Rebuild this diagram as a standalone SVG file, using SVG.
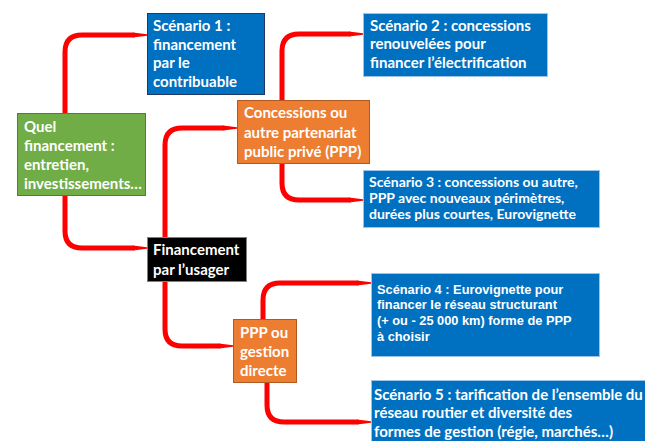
<svg xmlns="http://www.w3.org/2000/svg" width="645" height="441" viewBox="0 0 645 441">
<style>
.t{font-family:Lato,"Open Sans","Liberation Sans",sans-serif;font-weight:bold;font-size:15px;fill:#fff}
.s{font-size:14px}
.a{font-family:"Liberation Sans",Arial,sans-serif;font-weight:bold;font-size:12.8px;fill:#fff}
.c{fill:none;stroke:#ff0000;stroke-width:5;stroke-linecap:round;stroke-linejoin:round}
.tp{fill:#ff0000}
.blue{fill:#0070c0;stroke:#9dc3e6;stroke-width:1}
</style>
<rect width="645" height="441" fill="#fff"/>
<g id="connectors">
<path class="c" d="M65,113 V52 Q65,35 82,35 H133"/><polygon class="tp" points="133,32.5 147,34.3 147,35.7 133,37.5"/>
<path class="c" d="M65,196 V231 Q65,248 82,248 H133"/><polygon class="tp" points="133,245.5 147,247.3 147,248.7 133,250.5"/>
<path class="c" d="M165,237 V145 Q165,128 182,128 H223"/><polygon class="tp" points="223,125.5 237,127.3 237,128.7 223,130.5"/>
<path class="c" d="M165,282 V329 Q165,346 182,346 H219"/><polygon class="tp" points="219,343.5 233,345.3 233,346.7 219,348.5"/>
<path class="c" d="M282,100 V51 Q282,34 299,34 H349"/><polygon class="tp" points="349,31.5 363,33.3 363,34.7 349,36.5"/>
<path class="c" d="M282,164 V183 Q282,200 299,200 H349"/><polygon class="tp" points="349,197.5 363,199.3 363,200.7 349,202.5"/>
<path class="c" d="M263,319 V300 Q263,283 280,283 H357"/><polygon class="tp" points="357,280.5 371,282.3 371,283.7 357,285.5"/>
<path class="c" d="M267,383 V405 Q267,422 284,422 H357"/><polygon class="tp" points="357,419.5 371,421.3 371,422.7 357,424.5"/>
</g>
<g id="n-quel">
<rect x="17.5" y="113.5" width="128" height="82" fill="#70ad47" stroke="#507e32"/>
<text class="t" x="24" y="132">Quel</text>
<text class="t" x="24" y="151">financement :</text>
<text class="t" x="24" y="170">entretien,</text>
<text class="t" x="24" y="189">investissements…</text>
</g>
<g id="n-s1">
<rect x="147.5" y="13.5" width="117" height="81" fill="#0070c0" stroke="#1f3864"/>
<text class="t" x="153" y="31">Scénario 1 :</text>
<text class="t" x="153" y="50">financement</text>
<text class="t" x="153" y="68">par le</text>
<text class="t" x="153" y="87">contribuable</text>
</g>
<g id="n-conc">
<rect x="237.5" y="100.5" width="132" height="63" fill="#ed7d31" stroke="#ae5a21"/>
<text class="t" x="244" y="118">Concessions ou</text>
<text class="t" x="244" y="138">autre partenariat</text>
<text class="t" x="244" y="157">public privé (PPP)</text>
</g>
<g id="n-s2">
<rect class="blue" x="363.5" y="13.5" width="184" height="63"/>
<text class="t" x="370" y="31">Scénario 2 : concessions</text>
<text class="t" x="370" y="49">renouvelées pour</text>
<text class="t" x="370" y="68">financer l’électrification</text>
</g>
<g id="n-s3">
<rect class="blue" x="363.5" y="170.5" width="236" height="57"/>
<text class="t s" x="369" y="187">Scénario 3 : concessions ou autre,</text>
<text class="t s" x="369" y="203">PPP avec nouveaux périmètres,</text>
<text class="t s" x="369" y="219">durées plus courtes, Eurovignette</text>
</g>
<g id="n-usager">
<rect x="147.5" y="237.5" width="99" height="44" fill="#000" stroke="#7f7f7f"/>
<text class="t" x="153" y="255">Financement</text>
<text class="t" x="153" y="275">par l’usager</text>
</g>
<g id="n-ppp">
<rect x="233.5" y="319.5" width="63" height="63" fill="#ed7d31" stroke="#ae5a21"/>
<text class="t" x="240" y="338">PPP ou</text>
<text class="t" x="240" y="357">gestion</text>
<text class="t" x="240" y="376">directe</text>
</g>
<g id="n-s4">
<rect class="blue" x="371.5" y="273.5" width="228" height="83"/>
<text class="a" x="377" y="294">Scénario 4 : Eurovignette pour</text>
<text class="a" x="377" y="309">financer le réseau structurant</text>
<text class="a" x="377" y="325">(+ ou - 25 000 km) forme de PPP</text>
<text class="a" x="377" y="341">à choisir</text>
</g>
<g id="n-s5">
<rect class="blue" x="371.5" y="380.5" width="280" height="70"/>
<text class="t" x="374" y="400"> Scénario 5 : tarification de l’ensemble du</text>
<text class="t" x="374" y="418">réseau routier et diversité des</text>
<text class="t" x="374" y="437">formes de gestion (régie, marchés…)</text>
</g>
</svg>
